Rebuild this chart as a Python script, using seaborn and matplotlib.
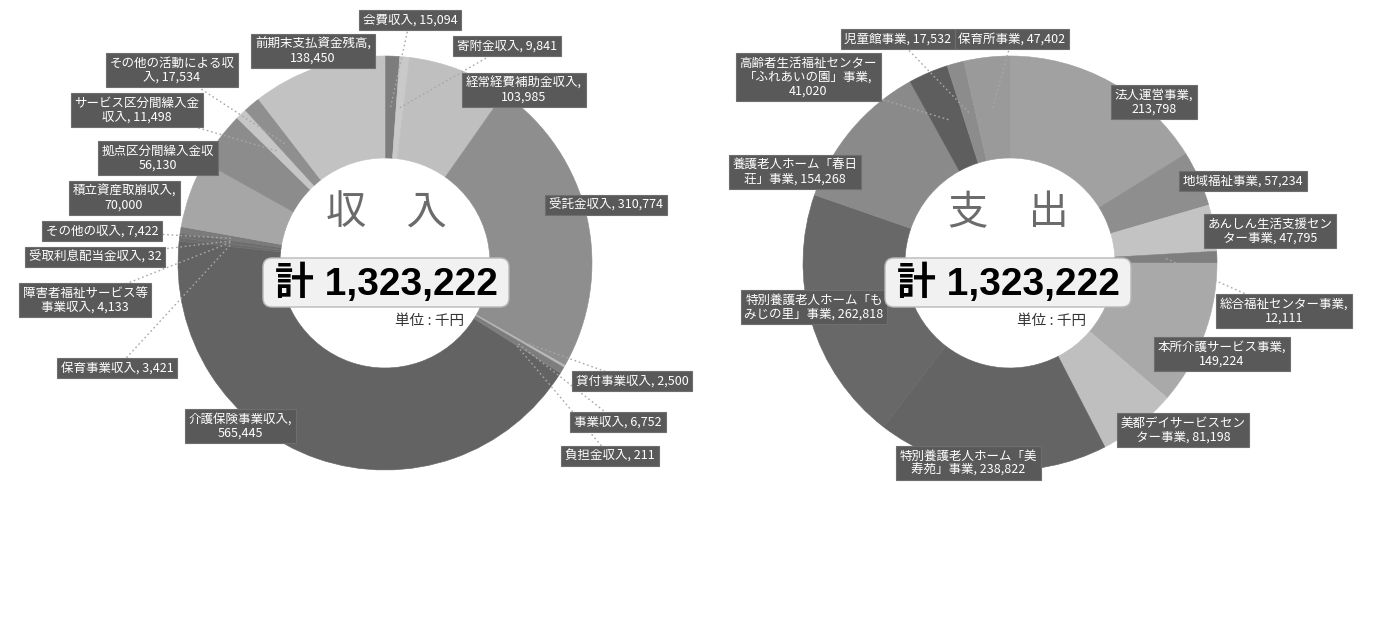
import matplotlib
matplotlib.use("Agg")
import numpy as np
import matplotlib.pyplot as plt
import seaborn as sns
from matplotlib.patches import FancyBboxPatch

# ---------------- data ----------------
income_names = ["会費収入", "寄附金収入", "経常経費補助金収入", "受託金収入", "貸付事業収入",
                "事業収入", "負担金収入", "介護保険事業収入", "保育事業収入",
                "障害者福祉サービス等事業収入", "受取利息配当金収入", "その他の収入",
                "積立資産取崩収入", "拠点区分間繰入金収入", "サービス区分間繰入金収入",
                "その他の活動による収入", "前期末支払資金残高"]
income_values = [15094, 9841, 103985, 310774, 2500, 6752, 211, 565445, 3421, 4133, 32,
                 7422, 70000, 56130, 11498, 17534, 138450]
income_label_fmt = ["会費収入, {v}", "寄附金収入, {v}", "経常経費補助金収入,\n{v}",
                    "受託金収入, {v}", "貸付事業収入, {v}", "事業収入, {v}", "負担金収入, {v}",
                    "介護保険事業収入,\n{v}", "保育事業収入, {v}",
                    "障害者福祉サービス等\n事業収入, {v}", "受取利息配当金収入, {v}",
                    "その他の収入, {v}", "積立資産取崩収入,\n{v}", "拠点区分間繰入金収\n{v}",
                    "サービス区分間繰入金\n収入, {v}", "その他の活動による収\n入, {v}",
                    "前期末支払資金残高,\n{v}"]

expense_names = ["法人運営事業", "地域福祉事業", "あんしん生活支援センター事業",
                 "総合福祉センター事業", "本所介護サービス事業", "美都デイサービスセンター事業",
                 "特別養護老人ホーム「美寿苑」事業", "特別養護老人ホーム「もみじの里」事業",
                 "養護老人ホーム「春日荘」事業", "高齢者生活福祉センター「ふれあいの園」事業",
                 "児童館事業", "保育所事業"]
expense_values = [213798, 57234, 47795, 12111, 149224, 81198, 238822, 262818, 154268,
                  41020, 17532, 47402]
expense_label_fmt = ["法人運営事業,\n{v}", "地域福祉事業, {v}", "あんしん生活支援セン\nター事業, {v}",
                     "総合福祉センター事業,\n{v}", "本所介護サービス事業,\n{v}",
                     "美都デイサービスセン\nター事業, {v}", "特別養護老人ホーム「美\n寿苑」事業, {v}",
                     "特別養護老人ホーム「も\nみじの里」事業, {v}", "養護老人ホーム「春日\n荘」事業, {v}",
                     "高齢者生活福祉センター\n「ふれあいの園」事業,\n{v}", "児童館事業, {v}",
                     "保育所事業, {v}"]

income_title = "収　入"
expense_title = "支　出"
total_text = "計 1,323,222"
unit_text = "単位 : 千円"

# ---------------- style ----------------
income_colors = ["#7d7d7d", "#c9c9c9", "#bfbfbf", "#8e8e8e", "#b8b8b8", "#7d7d7d", "#9a9a9a",
                 "#636363", "#6b6b6b", "#707070", "#555555", "#7b7b7b", "#a6a6a6", "#8c8c8c",
                 "#c6c6c6", "#8f8f8f", "#c2c2c2"]
expense_colors = ["#a1a1a1", "#8e8e8e", "#c3c3c3", "#7f7f7f", "#a9a9a9", "#bfbfbf", "#646464",
                  "#686868", "#8a8a8a", "#5e5e5e", "#8c8c8c", "#9a9a9a"]

income_label_pos = [(410, 20), (507, 46), (524, 90), (606, 205), (632, 381), (618, 422),
                    (610, 456), (240, 426), (117, 368), (85, 300), (95, 257), (102, 231),
                    (124, 198), (158, 158), (137, 110), (172, 70), (313, 51)]
income_leader = [True, True, False, False, True, True, True, False, True, True, True, True,
                 False, False, True, True, False]
expense_label_pos = [(1154, 102), (1243, 181), (1270, 231), (1284, 311), (1222, 354),
                     (1183, 430), (968, 463), (814, 307), (795, 172), (808, 77), (898, 39),
                     (1012, 39)]
expense_leader = [False, False, False, True, False, False, False, False, False, True, True, True]

W, H = 1379, 632
R_OUT, R_IN = 207, 105

sns.set_theme(style="white")
plt.rcParams['font.family'] = ['Noto Sans CJK JP', 'DejaVu Sans']

fig = plt.figure(figsize=(W / 100, H / 100), dpi=100)
ax = fig.add_axes([0, 0, 1, 1])


def Y(y):
    return H - y


def donut(values, colors, label_fmt, label_pos, leader, cx, cy):
    wedges, _ = ax.pie(values, colors=colors, startangle=90, counterclock=False,
                       radius=R_OUT, center=(cx, Y(cy)),
                       wedgeprops=dict(width=R_OUT - R_IN, linewidth=0.4))
    for w in wedges:
        w.set_edgecolor(w.get_facecolor())
    rmid = (R_OUT + R_IN) / 2
    for w, v, fmt, (lx, ly), ld in zip(wedges, values, label_fmt, label_pos, leader):
        if ld:
            a = np.deg2rad((w.theta1 + w.theta2) / 2)
            px, py = cx + rmid * np.cos(a), Y(cy) + rmid * np.sin(a)
            ax.plot([px, lx], [py, Y(ly)], ls=(0, (1.2, 2.0)), color="#a8a8a8", lw=1.0, zorder=4)
        ax.text(lx, Y(ly), fmt.format(v=f"{v:,}"), ha="center", va="center", color="white",
                fontsize=9, linespacing=1.1, zorder=6,
                bbox=dict(boxstyle="square,pad=0.3", fc="#595959", ec="#6e6e6e", lw=0.8))


def center_block(cx, title):
    ax.text(cx, Y(213), title, ha="center", va="center", fontsize=29, color="#6b6b6b", zorder=7)
    bx0, bx1, by0, by1 = cx - 123, cx + 123, 258, 307
    ax.add_patch(FancyBboxPatch((bx0, Y(by1)), bx1 - bx0, by1 - by0,
                                boxstyle="round,pad=0,rounding_size=9",
                                fc="#f1f1f1", ec="#b8b8b8", lw=1.0, zorder=7))
    ax.text(cx, Y(283), total_text, ha="center", va="center", fontsize=28, fontweight="bold",
            color="black", family=["Liberation Sans", "Noto Sans CJK JP"], zorder=8)
    ax.text(cx + 44, Y(321), unit_text, ha="center", va="center", fontsize=10.5,
            color="#333333", zorder=8)


donut(income_values, income_colors, income_label_fmt, income_label_pos, income_leader, 385, 263)
donut(expense_values, expense_colors, expense_label_fmt, expense_label_pos, expense_leader, 1010, 263)
center_block(386, income_title)
center_block(1008, expense_title)

ax.set_xlim(0, W)
ax.set_ylim(0, H)
ax.set_aspect("equal")
ax.axis("off")
fig.savefig("out.png", dpi=100, facecolor="white")
